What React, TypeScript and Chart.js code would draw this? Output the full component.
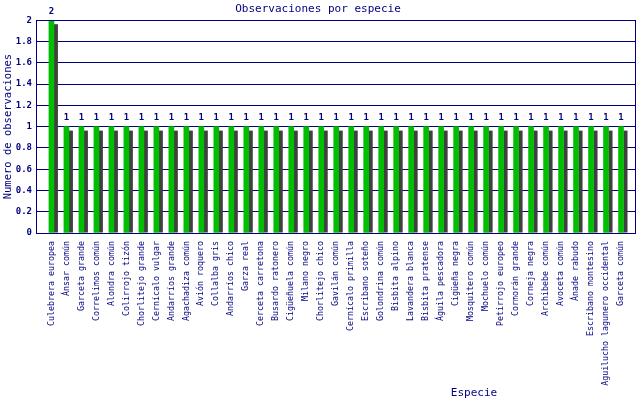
import React, { useEffect, useRef } from "react";
import { Chart, registerables, Plugin } from "chart.js";

Chart.register(...registerables);

const especies: string[] = [
  "Culebrera europea",
  "Ánsar común",
  "Garceta grande",
  "Correlimos común",
  "Alondra común",
  "Colirrojo tizón",
  "Chorlitejo grande",
  "Cernícalo vulgar",
  "Andarríos grande",
  "Agachadiza común",
  "Avión roquero",
  "Collalba gris",
  "Andarríos chico",
  "Garza real",
  "Cerceta carretona",
  "Busardo ratonero",
  "Cigüeñuela común",
  "Milano negro",
  "Chorlitejo chico",
  "Gavilán común",
  "Cernícalo primilla",
  "Escribano soteño",
  "Golondrina común",
  "Bisbita alpino",
  "Lavandera blanca",
  "Bisbita pratense",
  "Águila pescadora",
  "Cigüeña negra",
  "Mosquitero común",
  "Mochuelo común",
  "Petirrojo europeo",
  "Cormorán grande",
  "Corneja negra",
  "Archibebe común",
  "Avoceta común",
  "Ánade rabudo",
  "Escribano montesino",
  "Aguilucho lagunero occidental",
  "Garceta común",
];

const observaciones: number[] = [
  2, 1, 1, 1, 1, 1, 1, 1, 1, 1, 1, 1, 1, 1, 1, 1, 1, 1, 1, 1,
  1, 1, 1, 1, 1, 1, 1, 1, 1, 1, 1, 1, 1, 1, 1, 1, 1, 1, 1,
];

const yTicks: number[] = [0, 0.2, 0.4, 0.6, 0.8, 1, 1.2, 1.4, 1.6, 1.8, 2];

const NAVY = "#000080";
const GREEN = "#00bf00";
const SHADOW = "#404040";
const MONO = "'DejaVu Sans Mono', monospace";

// shadow bars, value labels, frame and the x title
const extras: Plugin<"bar"> = {
  id: "extras",
  beforeDatasetsDraw(chart) {
    const ctx = chart.ctx;
    const meta = chart.getDatasetMeta(0);
    ctx.save();
    ctx.fillStyle = SHADOW;
    meta.data.forEach((el: any) => {
      const { x, y, base, width } = el.getProps(["x", "y", "base", "width"], true);
      ctx.fillRect(x + width / 2, y + 4, 4, base - y - 4);
    });
    ctx.restore();
  },
  afterDatasetsDraw(chart) {
    const ctx = chart.ctx;
    const meta = chart.getDatasetMeta(0);
    const area = chart.chartArea;
    ctx.save();
    ctx.fillStyle = NAVY;
    ctx.font = `bold 9px ${MONO}`;
    ctx.textAlign = "center";
    ctx.textBaseline = "bottom";
    meta.data.forEach((el: any, i: number) => {
      const { x, y } = el.getProps(["x", "y"], true);
      ctx.fillText(String(observaciones[i]), x, y - 4);
    });
    ctx.strokeStyle = NAVY;
    ctx.lineWidth = 1;
    ctx.strokeRect(
      Math.round(area.left) + 0.5,
      Math.round(area.top) + 0.5,
      Math.round(area.right - area.left) - 1,
      Math.round(area.bottom - area.top)
    );
    ctx.font = `11px ${MONO}`;
    ctx.textBaseline = "middle";
    ctx.fillText("Especie", area.left + (area.right - area.left) * 0.73, 393);
    ctx.restore();
  },
};

const App: React.FC = () => {
  const canvasRef = useRef<HTMLCanvasElement>(null);
  const chartRef = useRef<Chart | null>(null);

  useEffect(() => {
    document.body.style.margin = "0";
    if (!canvasRef.current) return;
    if (chartRef.current) chartRef.current.destroy();

    chartRef.current = new Chart(canvasRef.current, {
      type: "bar",
      data: {
        datasets: [
          {
            label: "Observaciones",
            data: observaciones.map((v, i) => ({ x: i, y: v })),
            backgroundColor: GREEN,
            borderWidth: 0,
            barThickness: 5,
          },
        ],
      },
      options: {
        responsive: false,
        animation: false,
        layout: { padding: { top: 0, right: 4, left: 0, bottom: 0 } },
        plugins: {
          legend: { display: false },
          tooltip: { enabled: false },
          title: {
            display: true,
            text: "Observaciones por especie",
            color: NAVY,
            font: { family: MONO, size: 11, weight: "normal" },
            padding: { top: 3, bottom: 4 },
          },
        },
        scales: {
          x: {
            type: "linear",
            offset: false,
            min: -1.03,
            max: 39,
            grid: { display: false },
            border: { display: false },
            afterFit: (scale: any) => {
              scale.height = 167;
            },
            afterBuildTicks: (scale: any) => {
              scale.ticks = especies.map((_, i) => ({ value: i }));
            },
            ticks: {
              autoSkip: false,
              minRotation: 90,
              maxRotation: 90,
              padding: 0,
              color: NAVY,
              font: { family: MONO, size: 8.3 },
              callback: (v: any) => especies[v] ?? "",
            },
          },
          y: {
            min: 0,
            max: 2,
            afterFit: (scale: any) => {
              scale.width = 36;
            },
            afterBuildTicks: (scale: any) => {
              scale.ticks = yTicks.map((v) => ({ value: v }));
            },
            grid: { color: NAVY, lineWidth: 1, drawTicks: false },
            border: { display: false },
            ticks: {
              padding: 4,
              color: NAVY,
              font: { family: MONO, size: 9, weight: "bold" },
              callback: (v: any) => String(v),
            },
            title: {
              display: true,
              text: "Numero de observaciones",
              color: NAVY,
              font: { family: MONO, size: 10.5 },
              padding: { top: 2, bottom: 0 },
            },
          },
        },
      },
      plugins: [extras],
    });

    return () => {
      if (chartRef.current) {
        chartRef.current.destroy();
        chartRef.current = null;
      }
    };
  }, []);

  return (
    <div style={{ width: 640, height: 400, background: "#fff" }}>
      <canvas ref={canvasRef} width={640} height={400} />
    </div>
  );
};

export default App;
